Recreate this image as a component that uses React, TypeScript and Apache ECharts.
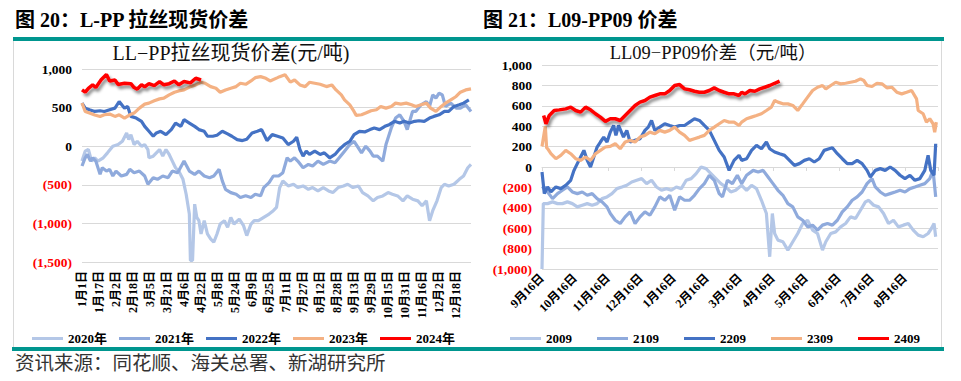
import React, { useEffect, useRef } from "react";
import * as echarts from "echarts";

const FONT = "'Liberation Serif', 'Noto Sans CJK SC', serif";

// ---- left chart: L-PP spot spread, x = day of year (0 = 1月1日)
const dayTickLabels = ["1月1日","1月17日","2月2日","2月18日","3月5日","3月21日","4月6日","4月22日","5月8日","5月24日","6月9日","6月25日","7月11日","7月27日","8月12日","8月28日","9月13日","9月29日","10月15日","10月31日","11月16日","12月2日","12月18日"];
const leftNames = ["2020年", "2021年", "2022年", "2023年", "2024年"];

const l2020: [number, number][] = [[0,-193],[3,-64],[6,-43],[9,-193],[12,-150],[15,-193],[20,-150],[24,-86],[29,0],[34,21],[38,64],[42,172],[44,86],[46,150],[49,21],[52,64],[56,0],[59,21],[62,-43],[63,-150],[67,-129],[70,-86],[73,-43],[76,-129],[79,-43],[82,-107],[85,-193],[88,-279],[91,-322],[95,-429],[98,-622],[101,-879],[102,-1480],[104,-1480],[106,-751],[108,-922],[110,-965],[112,-1137],[115,-965],[118,-1137],[121,-1201],[124,-1244],[127,-1137],[130,-1008],[134,-965],[137,-1051],[140,-922],[143,-1008],[148,-944],[152,-1030],[155,-1158],[159,-1008],[162,-965],[166,-965],[171,-922],[176,-879],[180,-836],[183,-794],[186,-536],[189,-450],[194,-515],[199,-493],[203,-536],[208,-515],[213,-558],[217,-536],[222,-579],[227,-536],[232,-579],[236,-601],[241,-536],[246,-515],[250,-493],[255,-536],[260,-515],[264,-601],[269,-644],[274,-708],[278,-665],[283,-644],[288,-601],[292,-622],[297,-644],[302,-708],[306,-644],[311,-686],[316,-708],[320,-772],[324,-708],[327,-965],[330,-836],[334,-708],[338,-536],[341,-493],[345,-515],[350,-493],[355,-429],[359,-386],[363,-279],[366,-236]];
const l2021: [number, number][] = [[0,-257],[3,-150],[5,-107],[8,-193],[10,-150],[13,-193],[17,-365],[19,-279],[23,-322],[26,-300],[29,-386],[32,-322],[37,-386],[42,-365],[45,-300],[49,-343],[54,-322],[59,-386],[62,-493],[67,-408],[71,-429],[76,-386],[81,-408],[85,-322],[90,-343],[96,-193],[101,-322],[106,-365],[110,-322],[115,-386],[120,-408],[124,-386],[129,-300],[132,-450],[135,-558],[140,-601],[145,-622],[149,-665],[154,-643],[159,-665],[163,-622],[168,-643],[171,-536],[176,-472],[180,-386],[185,-386],[189,-343],[193,-150],[196,-193],[200,-150],[203,-193],[208,-279],[213,-236],[217,-257],[222,-193],[227,-236],[233,-193],[238,-215],[242,-150],[247,-64],[252,21],[256,64],[260,-21],[263,-86],[267,0],[271,-64],[274,-129],[278,-129],[283,-193],[286,21],[291,236],[295,365],[299,407],[303,322],[306,215],[311,450],[314,450],[319,536],[324,579],[327,515],[330,665],[333,622],[336,686],[339,665],[342,515],[347,558],[352,493],[356,493],[361,536],[366,450]];
const l2022: [number, number][] = [[0,558],[3,493],[7,472],[12,450],[17,459],[21,450],[26,472],[31,493],[35,579],[40,493],[43,515],[46,386],[51,365],[56,322],[59,257],[63,193],[67,129],[70,172],[74,193],[79,150],[84,215],[88,300],[93,257],[96,343],[101,300],[106,257],[110,215],[115,193],[118,129],[123,129],[127,142],[132,193],[137,159],[141,129],[146,86],[151,73],[155,90],[160,172],[165,193],[169,215],[174,73],[179,150],[184,129],[189,107],[194,21],[199,64],[202,116],[205,-43],[208,-129],[211,-64],[214,-107],[219,-64],[224,-107],[228,-86],[233,-150],[238,-107],[242,-43],[247,21],[252,64],[256,150],[261,193],[266,185],[271,215],[275,236],[280,215],[285,257],[289,279],[294,322],[299,300],[303,322],[308,300],[313,322],[317,330],[322,322],[327,365],[331,386],[336,407],[341,450],[345,450],[350,515],[355,536],[359,558],[364,601]];
const l2023: [number, number][] = [[0,560],[3,450],[7,430],[12,405],[17,385],[21,407],[26,416],[31,386],[35,407],[40,365],[45,407],[49,429],[54,493],[59,545],[63,558],[68,588],[73,613],[77,622],[82,665],[87,699],[91,716],[96,729],[102,772],[107,794],[112,828],[116,815],[121,772],[126,751],[130,699],[135,729],[140,751],[145,772],[149,815],[154,802],[159,845],[163,888],[168,901],[173,879],[177,845],[184,888],[186,901],[191,925],[196,830],[200,858],[205,794],[210,772],[214,828],[219,815],[224,802],[230,772],[235,794],[239,729],[244,665],[247,601],[252,536],[255,472],[258,399],[263,407],[267,429],[272,459],[277,472],[281,515],[286,493],[291,515],[295,558],[300,545],[305,558],[310,536],[314,515],[319,536],[324,558],[328,493],[333,450],[338,515],[342,558],[347,601],[352,644],[356,699],[361,729],[366,742]];
const l2024: [number, number][] = [[0,730],[3,700],[6,750],[10,795],[13,760],[18,860],[23,930],[26,845],[31,858],[34,800],[40,815],[46,810],[49,760],[52,740],[56,795],[59,770],[63,810],[68,785],[73,837],[77,795],[82,810],[87,845],[91,795],[96,837],[102,820],[107,880],[112,858]];

// ---- right chart: L09-PP09 spread, x = months since 9月16日
const monthTickLabels = ["9月16日","10月16日","11月16日","12月16日","1月16日","2月16日","3月16日","4月16日","5月16日","6月16日","7月16日","8月16日"];
const rightNames = ["2009", "2109", "2209", "2309", "2409"];

const r2009: [number, number][] = [[0,-1000],[0.04,-359],[0.17,-359],[0.32,-342],[0.47,-359],[0.62,-359],[0.77,-342],[0.92,-359],[1.07,-391],[1.22,-375],[1.37,-359],[1.52,-375],[1.67,-359],[1.82,-310],[1.97,-293],[2.12,-261],[2.27,-212],[2.42,-196],[2.57,-179],[2.72,-147],[2.87,-130],[3.02,-114],[3.17,-163],[3.32,-130],[3.47,-196],[3.62,-228],[3.77,-212],[3.92,-228],[4.07,-196],[4.22,-212],[4.37,-130],[4.52,-114],[4.67,-65],[4.82,0],[4.97,-16],[5.12,-65],[5.27,-114],[5.42,-163],[5.57,-196],[5.72,-245],[5.87,-228],[6.05,-179],[6.2,-228],[6.35,-179],[6.5,-212],[6.65,-326],[6.8,-456],[6.9,-880],[6.98,-456],[7.05,-652],[7.15,-717],[7.3,-733],[7.45,-815],[7.6,-733],[7.75,-652],[7.9,-554],[8.05,-522],[8.2,-619],[8.35,-652],[8.5,-815],[8.6,-733],[8.75,-652],[8.9,-636],[9.05,-587],[9.2,-554],[9.35,-489],[9.5,-505],[9.65,-424],[9.8,-342],[9.9,-326],[10.05,-375],[10.2,-391],[10.35,-456],[10.5,-554],[10.65,-522],[10.8,-587],[10.95,-570],[11.1,-554],[11.25,-619],[11.4,-668],[11.55,-684],[11.7,-652],[11.8,-603],[11.88,-554],[11.93,-684]];
const r2109: [number, number][] = [[0,-212],[0.07,-196],[0.17,-245],[0.32,-310],[0.47,-261],[0.62,-228],[0.77,-196],[0.92,-245],[1.07,-261],[1.22,-245],[1.37,-277],[1.52,-261],[1.67,-310],[1.82,-342],[1.97,-391],[2.07,-456],[2.22,-522],[2.37,-554],[2.52,-489],[2.67,-440],[2.82,-554],[2.97,-489],[3.12,-440],[3.27,-473],[3.42,-391],[3.57,-293],[3.72,-326],[3.87,-277],[4.02,-424],[4.17,-293],[4.32,-326],[4.47,-326],[4.62,-277],[4.77,-212],[4.92,-163],[5.07,-81],[5.22,-130],[5.37,-261],[5.47,-293],[5.62,-130],[5.77,-163],[5.92,-81],[6.05,-163],[6.2,-81],[6.4,-33],[6.55,-49],[6.7,-33],[6.85,-98],[7,-163],[7.15,-228],[7.3,-277],[7.45,-359],[7.6,-391],[7.75,-489],[7.9,-522],[8.05,-587],[8.2,-570],[8.35,-619],[8.5,-570],[8.65,-554],[8.8,-570],[8.95,-522],[9.1,-440],[9.25,-391],[9.4,-326],[9.55,-293],[9.7,-245],[9.85,-163],[10,-114],[10.1,-196],[10.25,-245],[10.4,-277],[10.55,-261],[10.7,-245],[10.85,-228],[11,-245],[11.15,-212],[11.3,-196],[11.45,-179],[11.6,-163],[11.75,-114],[11.85,-33],[11.93,-293]];
const r2209: [number, number][] = [[0,-49],[0.07,-261],[0.17,-196],[0.27,-245],[0.42,-196],[0.57,-212],[0.72,-179],[0.87,-130],[0.97,-33],[1.07,33],[1.17,98],[1.27,163],[1.37,65],[1.47,0],[1.57,98],[1.67,196],[1.77,245],[1.87,293],[1.97,245],[2.07,342],[2.17,407],[2.24,310],[2.32,407],[2.47,293],[2.57,359],[2.67,245],[2.82,261],[2.97,277],[3.12,359],[3.22,391],[3.32,456],[3.42,359],[3.57,391],[3.72,424],[3.87,407],[4.02,391],[4.17,407],[4.32,407],[4.47,440],[4.62,473],[4.77,456],[4.92,407],[5.07,359],[5.22,261],[5.37,163],[5.52,98],[5.67,-33],[5.82,65],[5.97,114],[6.05,65],[6.2,81],[6.35,163],[6.5,212],[6.65,179],[6.8,245],[6.9,179],[7.05,147],[7.2,130],[7.35,114],[7.5,65],[7.65,16],[7.8,33],[7.95,65],[8.1,81],[8.25,49],[8.4,81],[8.55,163],[8.7,179],[8.8,189],[8.95,130],[9.1,81],[9.25,33],[9.4,33],[9.55,65],[9.7,33],[9.85,-33],[9.95,-98],[10.1,-33],[10.25,-16],[10.4,-33],[10.55,0],[10.7,-33],[10.85,-81],[11,-114],[11.15,-81],[11.3,-130],[11.45,-114],[11.6,-33],[11.7,114],[11.78,-33],[11.88,-81],[11.93,228]];
const r2309: [number, number][] = [[0,200],[0.1,400],[0.14,190],[0.17,179],[0.27,130],[0.42,81],[0.57,114],[0.72,163],[0.87,130],[1.02,81],[1.17,65],[1.32,98],[1.47,65],[1.62,130],[1.77,163],[1.92,196],[2.07,202],[2.22,228],[2.37,179],[2.52,245],[2.67,261],[2.82,245],[2.97,293],[3.12,310],[3.27,342],[3.42,326],[3.57,359],[3.72,342],[3.87,359],[4.02,391],[4.17,342],[4.32,310],[4.47,261],[4.62,277],[4.77,293],[4.92,310],[5.07,359],[5.22,391],[5.37,424],[5.52,456],[5.67,440],[5.82,440],[5.97,407],[6.05,440],[6.2,473],[6.35,489],[6.5,505],[6.65,522],[6.8,554],[6.95,587],[7.05,652],[7.15,636],[7.3,619],[7.45,619],[7.6,603],[7.75,554],[7.9,619],[8.05,685],[8.2,750],[8.35,782],[8.5,799],[8.6,766],[8.75,799],[8.9,831],[9.05,815],[9.2,821],[9.35,831],[9.5,841],[9.65,864],[9.75,848],[9.85,799],[10,789],[10.15,821],[10.3,815],[10.45,776],[10.6,782],[10.75,733],[10.9,717],[11.05,733],[11.2,750],[11.35,668],[11.4,554],[11.55,522],[11.65,440],[11.75,473],[11.85,424],[11.9,342],[11.95,440]];
const r2409: [number, number][] = [[0.05,505],[0.12,424],[0.22,505],[0.37,554],[0.52,560],[0.72,570],[0.87,587],[1.02,554],[1.17,538],[1.32,587],[1.47,561],[1.62,522],[1.77,489],[1.92,447],[2.07,473],[2.22,473],[2.37,456],[2.52,505],[2.67,554],[2.82,603],[2.97,636],[3.12,652],[3.27,685],[3.42,701],[3.57,717],[3.72,717],[3.87,750],[4.02,799],[4.17,808],[4.32,766],[4.47,757],[4.62,743],[4.77,733],[4.92,733],[5.07,750],[5.22,776],[5.37,750],[5.52,733],[5.67,717],[5.82,717],[5.97,701],[6.05,733],[6.15,717],[6.3,750],[6.45,743],[6.6,766],[6.75,782],[6.9,799],[7.05,821],[7.2,841]];

const COLORS = ["#b4c7e7", "#8faadc", "#4472c4", "#f4b183", "#ff0000"];

const yFmt = (v: number) => {
  const s = Math.abs(v).toLocaleString("en-US");
  return v < 0 ? `{n|(${s})}` : `{p|${s}}`;
};
const yRich = {
  n: { color: "#ff0000", fontWeight: "bold", fontSize: 13.5, fontFamily: FONT },
  p: { color: "#000000", fontWeight: "bold", fontSize: 13.5, fontFamily: FONT },
};

function mkSeries(name: string, data: [number, number][], idx: number, color: string) {
  const isRed = color === "#ff0000";
  return {
    name,
    type: "line",
    xAxisIndex: idx,
    yAxisIndex: idx,
    data,
    showSymbol: false,
    symbol: "none",
    itemStyle: { color },
    lineStyle: isRed
      ? { color, width: 3.5, shadowColor: "rgba(0,0,0,0.45)", shadowBlur: 3, shadowOffsetX: 2, shadowOffsetY: 3 }
      : { color, width: 3.2 },
    emphasis: { disabled: true },
  };
}

export default function App() {
  const ref = useRef<HTMLDivElement>(null);
  useEffect(() => {
    if (!ref.current) return;
    const chart = echarts.init(ref.current, undefined, { renderer: "svg" });
    const leftData = [l2020, l2021, l2022, l2023, l2024];
    const rightData = [r2009, r2109, r2209, r2309, r2409];
    const series: any[] = [];
    leftData.forEach((d, i) => series.push(mkSeries(leftNames[i], d, 0, COLORS[i])));
    rightData.forEach((d, i) => series.push(mkSeries(rightNames[i], d, 1, COLORS[i])));

    const legendText = { fontSize: 13, fontWeight: "bold", color: "#000", fontFamily: FONT };

    chart.setOption({
      animation: false,
      backgroundColor: "#ffffff",
      textStyle: { fontFamily: FONT },
      grid: [
        { left: 82, top: 69, width: 389, height: 193 },
        { left: 542, top: 65, width: 396, height: 204 },
      ],
      xAxis: [
        {
          type: "value", gridIndex: 0, min: 0, max: 366, interval: 16,
          axisLine: { show: false }, axisTick: { show: false }, splitLine: { show: false },
          axisLabel: {
            rotate: 90, margin: 9, fontSize: 12, fontWeight: "bold", color: "#000", fontFamily: FONT,
            showMaxLabel: false,
            formatter: (v: number) => (v % 16 === 0 && v / 16 < dayTickLabels.length ? dayTickLabels[v / 16] : ""),
          },
        },
        {
          type: "value", gridIndex: 1, min: 0, max: 12, interval: 1,
          axisLine: { show: true, lineStyle: { color: "#d9d9d9", width: 1 } },
          axisTick: { show: true, length: 4, lineStyle: { color: "#d9d9d9" } },
          splitLine: { show: false },
          axisLabel: {
            rotate: 45, margin: 7, fontSize: 12, fontWeight: "bold", color: "#000", fontFamily: FONT,
            formatter: (v: number) => (v < monthTickLabels.length ? monthTickLabels[v] : ""),
          },
        },
      ],
      yAxis: [
        {
          type: "value", gridIndex: 0, min: -1500, max: 1000, interval: 500,
          axisLine: { show: false }, axisTick: { show: false },
          splitLine: { lineStyle: { color: "#d9d9d9", width: 1 } },
          axisLabel: { margin: 10, formatter: yFmt, rich: yRich },
        },
        {
          type: "value", gridIndex: 1, min: -1000, max: 1000, interval: 200,
          axisLine: { show: false }, axisTick: { show: false },
          splitLine: { lineStyle: { color: "#d9d9d9", width: 1 } },
          axisLabel: { margin: 10, formatter: yFmt, rich: yRich },
        },
      ],
      legend: [
        {
          left: 27, top: 327, itemWidth: 31, itemHeight: 3, itemGap: 12, icon: "rect",
          data: leftNames, textStyle: legendText, selectedMode: false,
        },
        {
          left: 505, top: 327, itemWidth: 31, itemHeight: 3, itemGap: 25, icon: "rect",
          data: rightNames, textStyle: legendText, selectedMode: false,
        },
      ],
      graphic: [
        { type: "rect", silent: true, shape: { x: 13, y: 37, width: 931, height: 4 }, style: { fill: "#00968f" } },
        { type: "rect", silent: true, shape: { x: 12, y: 347, width: 932, height: 4 }, style: { fill: "#00968f" } },
        { type: "rect", silent: true, shape: { x: 13, y: 41, width: 1, height: 306 }, style: { fill: "#d9d9d9" } },
        { type: "rect", silent: true, shape: { x: 941, y: 41, width: 1, height: 306 }, style: { fill: "#d9d9d9" } },
        {
          type: "text", silent: true, x: 15, y: 20,
          style: { text: "图 20：L-PP 拉丝现货价差", fill: "#000", fontSize: 20, fontWeight: "bold", fontFamily: FONT, textAlign: "left", textVerticalAlign: "middle" },
        },
        {
          type: "text", silent: true, x: 483, y: 20,
          style: { text: "图 21：L09-PP09 价差", fill: "#000", fontSize: 20, fontWeight: "bold", fontFamily: FONT, textAlign: "left", textVerticalAlign: "middle" },
        },
        {
          type: "text", silent: true, x: 231, y: 53,
          style: { text: "LL−PP拉丝现货价差(元/吨)", fill: "#111", fontSize: 20, fontFamily: FONT, textAlign: "center", textVerticalAlign: "middle" },
        },
        {
          type: "text", silent: true, x: 713, y: 53,
          style: { text: "LL09−PP09价差（元/吨）", fill: "#111", fontSize: 18.5, fontFamily: FONT, textAlign: "center", textVerticalAlign: "middle" },
        },
        {
          type: "text", silent: true, x: 15, y: 363,
          style: { text: "资讯来源：同花顺、海关总署、新湖研究所", fill: "#333", fontSize: 19.5, fontFamily: FONT, textAlign: "left", textVerticalAlign: "middle" },
        },
      ],
      series,
    });
    return () => chart.dispose();
  }, []);
  return (
    <div
      ref={ref}
      style={{ position: "absolute", left: 0, top: 0, width: 961, height: 381, background: "#fff" }}
    />
  );
}
